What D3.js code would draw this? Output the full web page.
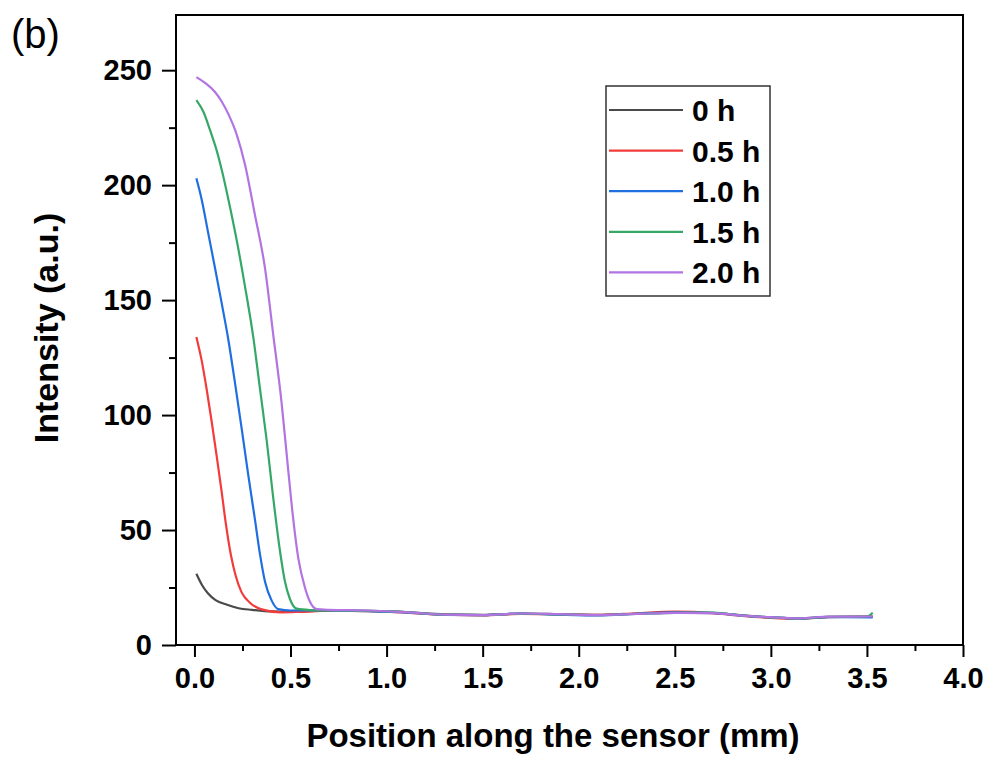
<!DOCTYPE html>
<html>
<head>
<meta charset="utf-8">
<script src="https://cdn.jsdelivr.net/npm/d3@7"></script>
<style>
  body { margin: 0; background: #fff; }
  text { font-family: "Liberation Sans", Arial, sans-serif; }
</style>
</head>
<body>
<div id="canvas"></div>
<script>
// series names and colors
let seriesNames = ["0 h", "0.5 h", "1.0 h", "1.5 h", "2.0 h"];
let seriesColors = ["#4a4a4a", "#f23c3c", "#1f6fe0", "#35a868", "#b273e3"];

// positions along the sensor (mm) and intensities
let x0h = [0.01, 0.04, 0.07, 0.11, 0.17, 0.23, 0.3, 0.4, 0.5, 0.7, 0.9, 1.1, 1.3, 1.5, 1.7, 1.9, 2.1, 2.3, 2.5, 2.7, 2.85, 3.0, 3.15, 3.3, 3.53];
let y0h = [31, 26, 22.5, 19.5, 17.5, 16, 15.3, 14.6, 14.5, 15.0, 14.8, 14.3, 13.3, 13.1, 13.7, 13.4, 13.1, 13.6, 14.1, 13.9, 12.9, 12.0, 11.6, 12.2, 12.4];

let x05h = [0.01, 0.037, 0.064, 0.09, 0.116, 0.141, 0.163, 0.19, 0.215, 0.245, 0.29, 0.35, 0.45, 0.55, 0.7, 0.9, 1.1, 1.3, 1.5, 1.7, 1.9, 2.1, 2.3, 2.5, 2.7, 2.85, 3.0, 3.15, 3.3, 3.53];
let y05h = [134, 124, 111, 97, 82, 67, 53, 39, 30, 23, 18.3, 15.5, 14.2, 14.4, 14.9, 14.7, 14.1, 13.2, 12.9, 13.5, 13.3, 13.1, 13.8, 14.5, 13.9, 12.7, 11.8, 11.4, 12.1, 12.3];

let x10h = [0.01, 0.037, 0.072, 0.107, 0.141, 0.176, 0.211, 0.246, 0.28, 0.315, 0.341, 0.367, 0.402, 0.436, 0.5, 0.6, 0.7, 0.9, 1.1, 1.3, 1.5, 1.7, 1.9, 2.1, 2.3, 2.5, 2.7, 2.85, 3.0, 3.15, 3.3, 3.53];
let y10h = [203, 194, 179, 164, 149, 133, 114, 94, 74, 54.5, 39.5, 27.6, 19.3, 15.6, 15.0, 15.1, 15.0, 14.7, 14.2, 13.1, 13.0, 13.7, 13.2, 12.9, 13.6, 14.2, 14.0, 12.8, 12.0, 11.5, 12.1, 12.0];

let x15h = [0.01, 0.046, 0.081, 0.116, 0.141, 0.176, 0.22, 0.263, 0.306, 0.341, 0.376, 0.41, 0.445, 0.471, 0.497, 0.532, 0.6, 0.7, 0.9, 1.1, 1.3, 1.5, 1.7, 1.9, 2.1, 2.3, 2.5, 2.7, 2.85, 3.0, 3.15, 3.3, 3.5, 3.53];
let y15h = [237, 232, 224, 215, 207, 194, 176, 156, 134, 111.5, 89, 64, 41, 27.6, 20, 15.8, 15.2, 15.0, 14.8, 14.3, 13.2, 13.0, 13.6, 13.3, 13.0, 13.5, 14.0, 14.1, 12.8, 12.0, 11.5, 12.2, 12.4, 14];

let x20h = [0.01, 0.055, 0.107, 0.141, 0.176, 0.22, 0.263, 0.315, 0.367, 0.41, 0.454, 0.48, 0.506, 0.54, 0.575, 0.6, 0.636, 0.7, 0.9, 1.1, 1.3, 1.5, 1.7, 1.9, 2.1, 2.3, 2.5, 2.7, 2.85, 3.0, 3.15, 3.3, 3.53];
let y20h = [247, 244.5, 240.5, 236.5, 231, 222, 209, 187, 164, 135, 105, 83, 61, 38, 25, 19, 15.6, 15.3, 15.0, 14.3, 13.2, 13.0, 13.7, 13.4, 13.0, 13.5, 14.0, 13.9, 12.8, 12.1, 11.6, 12.3, 12.4];

let seriesX = [x0h, x05h, x10h, x15h, x20h];
let seriesY = [y0h, y05h, y10h, y15h, y20h];

let xTicks = [0.0, 0.5, 1.0, 1.5, 2.0, 2.5, 3.0, 3.5, 4.0];
let xMinor = [0.25, 0.75, 1.25, 1.75, 2.25, 2.75, 3.25, 3.75];
let yTicks = [0, 50, 100, 150, 200, 250];
let yMinor = [25, 75, 125, 175, 225];

window.onload = function () {
    let W = 990, H = 762;
    let left = 176, right = 963, top = 15, bottom = 645;

    let svg = d3.select("#canvas").append("svg")
        .attr("width", W).attr("height", H);

    let x = d3.scaleLinear().domain([-0.096, 4.0]).range([left, right]);
    let y = d3.scaleLinear().domain([0, 274]).range([bottom, top]);

    // curves (clip to plot area)
    svg.append("clipPath").attr("id", "clip")
        .append("rect").attr("x", left).attr("y", top)
        .attr("width", right - left).attr("height", bottom - top);

    let line = d3.line()
        .x(d => x(d[0]))
        .y(d => y(d[1]))
        .curve(d3.curveMonotoneX);

    let plot = svg.append("g").attr("clip-path", "url(#clip)");
    for (let s = 0; s < seriesNames.length; s++) {
        let pts = seriesX[s].map((v, k) => [v, seriesY[s][k]]);
        plot.append("path")
            .attr("d", line(pts))
            .attr("fill", "none")
            .attr("stroke", seriesColors[s])
            .attr("stroke-width", 2.2);
    }

    // frame
    svg.append("rect")
        .attr("x", left).attr("y", top)
        .attr("width", right - left).attr("height", bottom - top)
        .attr("fill", "none").attr("stroke", "#000").attr("stroke-width", 2);

    // x axis
    let xAxis = svg.append("g").attr("transform", "translate(0," + bottom + ")")
        .call(d3.axisBottom(x).tickValues(xTicks).tickFormat(d3.format(".1f"))
            .tickSize(12).tickPadding(10));
    xAxis.select(".domain").remove();
    xAxis.selectAll(".tick line").attr("stroke-width", 2);
    xAxis.selectAll(".tick text")
        .style("font-family", "'Liberation Sans', Arial, sans-serif")
        .style("font-size", "29px").style("font-weight", "bold").attr("fill", "#000");
    svg.append("g").attr("transform", "translate(0," + bottom + ")")
        .call(d3.axisBottom(x).tickValues(xMinor).tickSize(6).tickFormat(""))
        .call(g => g.select(".domain").remove())
        .selectAll(".tick line").attr("stroke-width", 2);

    // y axis
    let yAxis = svg.append("g").attr("transform", "translate(" + left + ",0)")
        .call(d3.axisLeft(y).tickValues(yTicks).tickSize(14).tickPadding(10));
    yAxis.select(".domain").remove();
    yAxis.selectAll(".tick line").attr("stroke-width", 2);
    yAxis.selectAll(".tick text")
        .style("font-family", "'Liberation Sans', Arial, sans-serif")
        .style("font-size", "29px").style("font-weight", "bold").attr("fill", "#000");
    svg.append("g").attr("transform", "translate(" + left + ",0)")
        .call(d3.axisLeft(y).tickValues(yMinor).tickSize(7).tickFormat(""))
        .call(g => g.select(".domain").remove())
        .selectAll(".tick line").attr("stroke-width", 2);

    // axis titles
    svg.append("text")
        .attr("x", 553).attr("y", 747)
        .attr("text-anchor", "middle")
        .style("font-size", "33px").style("font-weight", "bold")
        .text("Position along the sensor (mm)");
    svg.append("text")
        .attr("transform", "translate(58,328) rotate(-90)")
        .attr("text-anchor", "middle")
        .style("font-size", "34px").style("font-weight", "bold")
        .text("Intensity (a.u.)");

    // panel label
    svg.append("text")
        .attr("x", 11).attr("y", 48)
        .style("font-size", "40px")
        .text("(b)");

    // legend
    let lg = svg.append("g");
    lg.append("rect")
        .attr("x", 606).attr("y", 86).attr("width", 164).attr("height", 210)
        .attr("fill", "#fff").attr("stroke", "#333").attr("stroke-width", 1.5);
    seriesNames.forEach((name, s) => {
        let ly = 110 + s * 40.6;
        lg.append("line")
            .attr("x1", 609).attr("x2", 683).attr("y1", ly).attr("y2", ly)
            .attr("stroke", seriesColors[s]).attr("stroke-width", 2.2);
        lg.append("text")
            .attr("x", 692).attr("y", ly + 11)
            .style("font-size", "30px").style("font-weight", "bold")
            .text(name);
    });
};
</script>
</body>
</html>
